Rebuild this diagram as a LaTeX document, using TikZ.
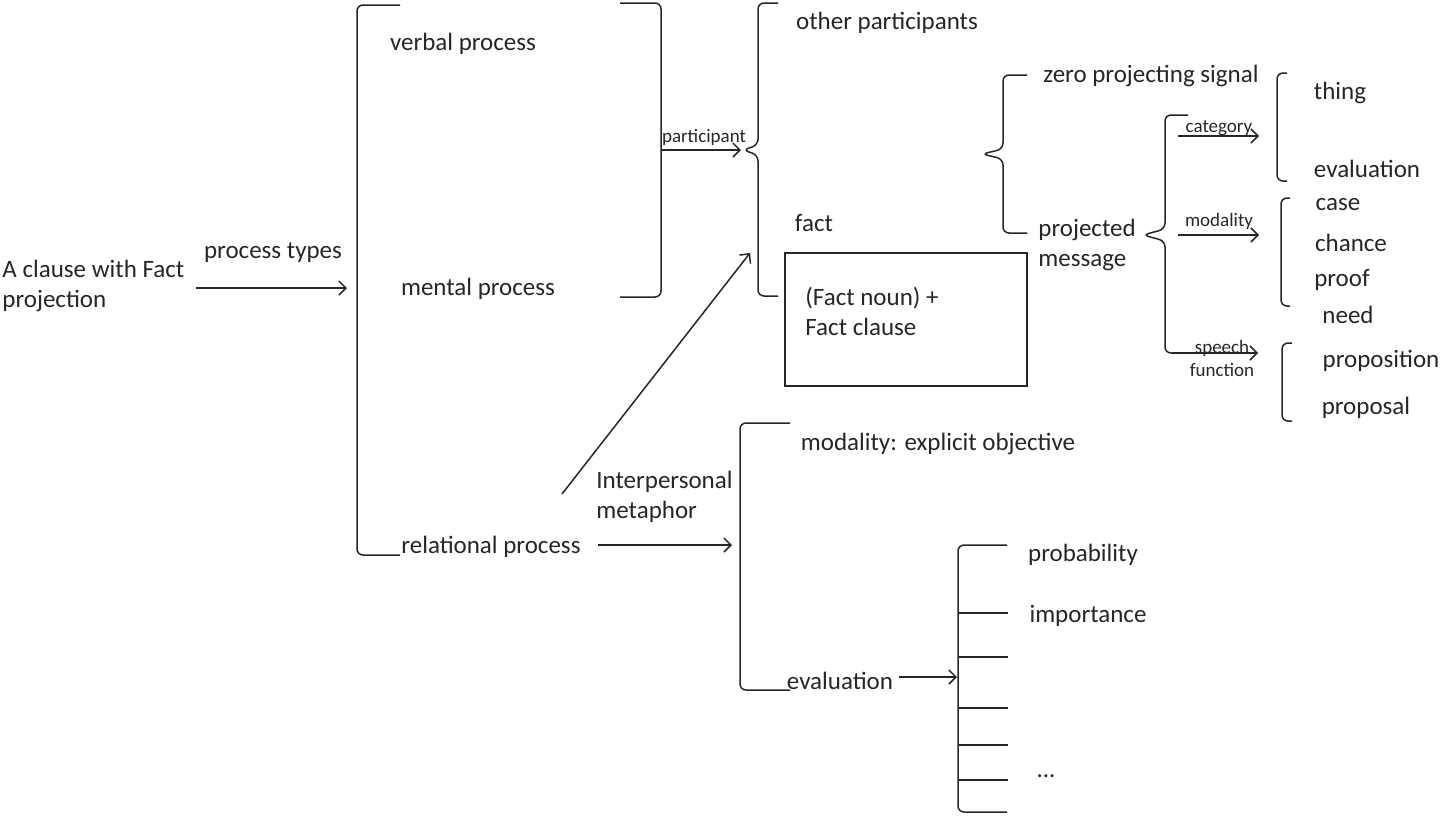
\documentclass[tikz,border=0pt]{standalone}
\usepackage{fontspec}
\setmainfont{Carlito}
\usetikzlibrary{arrows.meta}
\tikzset{
  txt/.style={font=\fontsize{12.5}{15}\selectfont, inner sep=0pt, text=black!85, yshift=-1pt},
  small/.style={font=\fontsize{9.5}{11.5}\selectfont, inner sep=0pt, text=black!85},
  arr/.style={-{Straight Barb[length=3.5pt,width=7pt]}, line width=0.75pt, black!85},
  brk/.style={line width=0.75pt, rounded corners=3pt, black!85},
  tick/.style={line width=0.75pt, black!85}
}
\begin{document}
\begin{tikzpicture}[x=0.5pt,y=-0.5pt]
\useasboundingbox (0,0) rectangle (1440,816);
% texts
\node[txt, anchor=west, align=left] (clause) at (2,284) {A clause with Fact\\projection};
\node[txt] (ptypes) at (273,251) {process types};
\node[txt] (verbal) at (463,42) {verbal process};
\node[txt] (mental) at (478,287) {mental process};
\node[txt] (relational) at (491,545) {relational process};
\node[small] (participant) at (704,137) {participant};
\node[txt] (other) at (887,21) {other participants};
\node[txt] (fact) at (814,221) {fact};
\node[draw, line width=0.75pt, black!85, minimum width=121pt, minimum height=66.5pt] (box) at (906,319.5) {};
\node[txt, anchor=west, align=left] (boxtxt) at (805,309) {(Fact noun) +\\Fact clause};
\node[txt] (zero) at (1151,74) {zero projecting signal};
\node[txt, anchor=west, align=left] (projected) at (1038,243) {projected\\message};
\node[small] (category) at (1219,128) {category};
\node[small] (modality) at (1219,221) {modality};
\node[small, align=center] (speech) at (1222,358) {speech\\function};
\node[txt] (thing) at (1340,91) {thing};
\node[txt] (evalA) at (1367,167) {evaluation};
\node[txt] (case) at (1338,203) {case};
\node[txt] (chance) at (1351,241) {chance};
\node[txt] (proof) at (1342,278) {proof};
\node[txt] (need) at (1348,313) {need};
\node[txt] (proposition) at (1381,359) {proposition};
\node[txt] (proposal) at (1366,406) {proposal};
\node[txt, anchor=west, align=left] (interp) at (596,495) {Interpersonal\\metaphor};
\node[txt] (modexp) at (938,442) {modality: explicit objective};
\node[txt] (evalB) at (840,679) {evaluation};
\node[txt] (prob) at (1083,553) {probability};
\node[txt] (imp) at (1088,614) {importance};
\node[txt] (dots) at (1046,774) {...};
% coordinates
\coordinate (c1s) at (196,288);
\coordinate (c1e) at (347,288);
\coordinate (b2r) at (661,150);
\coordinate (tip1) at (741,150);
\coordinate (diagS) at (562,494);
\coordinate (diagE) at (750,253);
\coordinate (relS) at (598,545);
\coordinate (relE) at (732,545);
\coordinate (catS) at (1178,136);
\coordinate (catE) at (1259,136);
\coordinate (modS) at (1178,235);
\coordinate (modE) at (1259,235);
\coordinate (spS) at (1172,353);
\coordinate (spE) at (1258,353);
\coordinate (evS) at (899,677);
\coordinate (evE) at (957,677);
% brackets and braces
\draw[brk] (400,5) -- (357,5) -- (357,555) -- (400,555);
\draw[brk] (620,3) -- (661,3) -- (661,297) -- (620,297);
\draw[brk] (778,3) -- (758,3) -- (758,145) -- (743,150) -- (758,155) -- (758,296) -- (778,296);
\draw[brk] (1027,75) -- (1003,75) -- (1003,149) -- (982,154) -- (1003,159) -- (1003,233) -- (1027,233);
\draw[brk] (1188,115) -- (1165,115) -- (1165,229) -- (1143,235) -- (1165,241) -- (1165,353) -- (1176,353);
\draw[brk] (1287,73) -- (1277,73) -- (1277,181) -- (1287,181);
\draw[brk] (1290,198) -- (1281,198) -- (1281,306) -- (1290,306);
\draw[brk] (1292,343) -- (1282,343) -- (1282,421) -- (1292,421);
\draw[brk] (790,423) -- (740,423) -- (740,690) -- (790,690);
\draw[brk] (1007,545) -- (958,545) -- (958,812) -- (1007,812);
\foreach \yy in {613,657,708,745,780} \draw[tick] (959,\yy) -- (1008,\yy);
% arrows
\draw[arr] (c1s) -- (c1e);
\draw[arr] (b2r) -- (tip1);
\draw[arr] (diagS) -- (diagE);
\draw[arr] (relS) -- (relE);
\draw[arr] (catS) -- (catE);
\draw[arr] (modS) -- (modE);
\draw[arr] (spS) -- (spE);
\draw[arr] (evS) -- (evE);
\end{tikzpicture}
\end{document}
